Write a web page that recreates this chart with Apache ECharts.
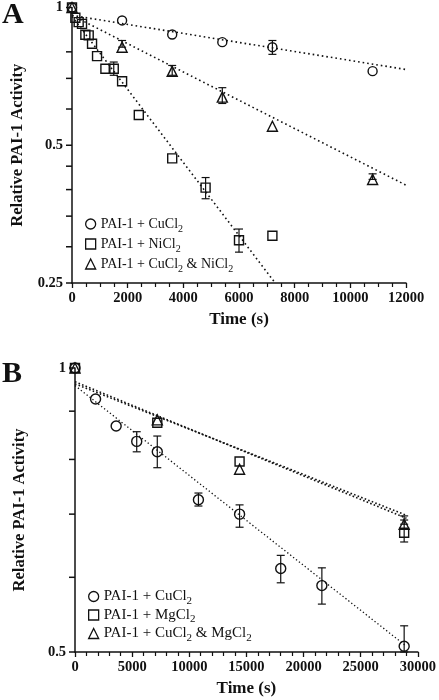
<!DOCTYPE html>
<html>
<head>
<meta charset="utf-8">
<script src="https://cdn.jsdelivr.net/npm/echarts@6/dist/echarts.min.js"></script>
<style>html,body{margin:0;padding:0;background:#fff}#c{width:439px;height:700px}</style>
</head>
<body>
<div id="c"></div>
<script>
// ---------- Panel A data ----------
var aCuT = [0, 1800, 3600, 5400, 7200, 10800];
var aCuV = [1, 0.937, 0.873, 0.840, 0.819, 0.726];
var aNiT = [0, 120, 240, 360, 480, 600, 720, 900, 1200, 1500, 1800, 2400, 3600, 4800, 6000, 7200];
var aNiV = [1, 0.950, 0.929, 0.921, 0.872, 0.869, 0.833, 0.783, 0.735, 0.735, 0.690, 0.582, 0.468, 0.404, 0.310, 0.317];
var aBothT = [0, 1800, 3600, 5400, 7200, 10800];
var aBothV = [1, 0.819, 0.725, 0.637, 0.550, 0.421];
// error bars [time, low, high]
var aCuErr = [[7200, 0.790, 0.847]];
var aNiErr = [[1500, 0.711, 0.760], [4800, 0.382, 0.425], [6000, 0.292, 0.328]];
var aBothErr = [[1800, 0.819, 0.847], [3600, 0.711, 0.747], [5400, 0.617, 0.668], [10800, 0.421, 0.433]];
// fitted lines [time, value]
var aCuFit = [[0, 0.961], [12000, 0.732]];
var aNiFit = [[0, 0.956], [7300, 0.25]];
var aBothFit = [[0, 0.961], [12000, 0.409]];
var aXTicks = [0, 12000, 2000];
var aYTicks = [0.25, 0.3, 0.35, 0.4, 0.45, 0.5, 0.6, 0.7, 0.8, 1];

// ---------- Panel B data ----------
var bCuT = [0, 1800, 3600, 5400, 7200, 10800, 14400, 18000, 21600, 28800];
var bCuV = [1, 0.927, 0.868, 0.836, 0.815, 0.725, 0.700, 0.613, 0.588, 0.507];
var bMgT = [0, 7200, 14400, 28800];
var bMgV = [1, 0.875, 0.796, 0.669];
var bBothT = [0, 7200, 14400, 28800];
var bBothV = [1, 0.881, 0.781, 0.683];
var bCuErr = [[5400, 0.815, 0.856], [7200, 0.784, 0.847], [10800, 0.714, 0.737], [14400, 0.678, 0.716], [18000, 0.592, 0.633], [21600, 0.562, 0.614], [28800, 0.5, 0.533]];
var bMgErr = [[28800, 0.654, 0.690]];
var bBothErr = [[28800, 0.683, 0.697]];
var bCuFit = [[0, 0.958], [29000, 0.507]];
var bMgFit = [[0, 0.967], [29000, 0.693]];
var bBothFit = [[0, 0.962], [29000, 0.698]];
var bXTicks = [0, 30000, 5000];
var bYTicks = [0.5, 0.6, 0.7, 0.8, 0.9, 1];

var namesA = ['PAI-1 + CuCl2', 'PAI-1 + NiCl2', 'PAI-1 + CuCl2 & NiCl2'];
var namesB = ['PAI-1 + CuCl2', 'PAI-1 + MgCl2', 'PAI-1 + CuCl2 & MgCl2'];

var SERIF = '"Liberation Serif", "DejaVu Serif", serif';
var INK = '#111';

function zip(t, v) { return t.map(function (x, i) { return [x, v[i]]; }); }

function errSeries(data, xi, yi) {
  return {
    type: 'custom', xAxisIndex: xi, yAxisIndex: yi, data: data, silent: true, z: 3,
    renderItem: function (params, api) {
      var t = api.value(0);
      var lo = api.coord([t, api.value(1)]);
      var hi = api.coord([t, api.value(2)]);
      var w = 4;
      var st = { stroke: INK, lineWidth: 1.2, fill: null };
      return {
        type: 'group', children: [
          { type: 'line', shape: { x1: hi[0], y1: hi[1], x2: lo[0], y2: lo[1] }, style: st },
          { type: 'line', shape: { x1: hi[0] - w, y1: hi[1], x2: hi[0] + w, y2: hi[1] }, style: st },
          { type: 'line', shape: { x1: lo[0] - w, y1: lo[1], x2: lo[0] + w, y2: lo[1] }, style: st }
        ]
      };
    }
  };
}
// y-axis tick marks on the log axes, placed through the axis scale
function yTickSeries(vals, xmin, xi, yi) {
  return {
    type: 'scatter', xAxisIndex: xi, yAxisIndex: yi, silent: true, clip: false, z: 5,
    data: vals.map(function (v) { return [xmin, v]; }),
    symbol: 'rect', symbolSize: [6, 1.5], symbolOffset: [-3, 0],
    itemStyle: { color: INK, opacity: 1 }
  };
}
function pts(name, t, v, sym, size, xi, yi) {
  return {
    name: name, type: 'scatter', xAxisIndex: xi, yAxisIndex: yi, data: zip(t, v),
    symbol: sym, symbolSize: size, z: 4, clip: false,
    itemStyle: { color: 'rgba(255,255,255,0)', borderColor: INK, borderWidth: 1.4, opacity: 1 }
  };
}
function fit(data, xi, yi, w, dash) {
  return {
    type: 'line', xAxisIndex: xi, yAxisIndex: yi, data: data, showSymbol: false, silent: true, z: 2,
    lineStyle: { color: INK, width: w, type: dash }
  };
}
function richName(name) {
  var s = name.split('Cl2');
  var out = '';
  for (var i = 0; i < s.length; i++) {
    if (s[i] !== '') out += '{n|' + s[i] + '}';
    if (i < s.length - 1) out += '{n|Cl}{s|2}';
  }
  return out;
}
function legendFor(names, syms, left, top, gap, fs) {
  return {
    orient: 'vertical', left: left, top: top, itemGap: gap, itemWidth: 10, itemHeight: 10,
    selectedMode: false,
    data: names.map(function (n, i) {
      return { name: n, icon: syms[i], itemStyle: { color: 'rgba(255,255,255,0)', borderColor: INK, borderWidth: 1.3 } };
    }),
    formatter: richName,
    textStyle: {
      padding: [0, 0, 0, 0],
      rich: {
        n: { fontFamily: SERIF, fontSize: fs, color: INK, lineHeight: 20, verticalAlign: 'middle' },
        s: { fontFamily: SERIF, fontSize: fs - 4, color: INK, lineHeight: 9, verticalAlign: 'bottom' }
      }
    }
  };
}
function xAxisDef(gi, ticks, split, gap) {
  return {
    type: 'value', gridIndex: gi, min: ticks[0], max: ticks[1], interval: ticks[2],
    name: 'Time (s)', nameLocation: 'middle', nameGap: gap,
    nameTextStyle: { fontFamily: SERIF, fontWeight: 'bold', fontSize: 17, color: INK },
    axisLine: { show: true, lineStyle: { color: INK, width: 1.5 } },
    axisTick: { show: true, inside: false, length: 5, lineStyle: { color: INK, width: 1.3 } },
    minorTick: { show: true, splitNumber: split, length: 4, lineStyle: { color: INK, width: 1.2 } },
    axisLabel: { margin: 8, fontFamily: SERIF, fontWeight: 'bold', fontSize: 14.5, color: INK,
      formatter: function (v) { return String(v); } },
    splitLine: { show: false }
  };
}
function yAxisDef(gi, min, gap) {
  return {
    type: 'log', logBase: 2, gridIndex: gi, min: min, max: 1,
    name: 'Relative PAI-1 Activity', nameLocation: 'middle', nameGap: gap,
    nameTextStyle: { fontFamily: SERIF, fontWeight: 'bold', fontSize: 16.5, color: INK },
    axisLine: { show: true, lineStyle: { color: INK, width: 1.5 } },
    axisTick: { show: false },
    axisLabel: { margin: 9, fontFamily: SERIF, fontWeight: 'bold', fontSize: 14.5, color: INK,
      formatter: function (v) { return String(+(+v).toFixed(2)); } },
    splitLine: { show: false }, minorTick: { show: false }
  };
}

var chart = echarts.init(document.getElementById('c'), null, { renderer: 'canvas' });
chart.setOption({
  animation: false,
  backgroundColor: '#fff',
  grid: [
    { left: 72, right: 33, top: 7, height: 276 },
    { left: 75, right: 20, top: 368, height: 284 }
  ],
  xAxis: [xAxisDef(0, aXTicks, 4, 28), xAxisDef(1, bXTicks, 5, 28)],
  yAxis: [yAxisDef(0, 0.25, 44), yAxisDef(1, 0.5, 47)],
  legend: [
    legendFor(namesA, ['circle', 'rect', 'triangle'], 80, 212, 3, 14),
    legendFor(namesB, ['circle', 'rect', 'triangle'], 83, 584, 1, 15)
  ],
  graphic: [
    { type: 'text', left: 2, top: 0, style: { text: 'A', font: 'bold 30px ' + SERIF, fill: INK } },
    { type: 'text', left: 2, top: 359, style: { text: 'B', font: 'bold 30px ' + SERIF, fill: INK } }
  ],
  series: [
    yTickSeries(aYTicks, aXTicks[0], 0, 0),
    yTickSeries(bYTicks, bXTicks[0], 1, 1),
    fit(aCuFit, 0, 0, 1.6, [1.6, 3]),
    fit(aNiFit, 0, 0, 1.6, [1.6, 3]),
    fit(aBothFit, 0, 0, 1.6, [1.6, 3]),
    errSeries(aCuErr, 0, 0), errSeries(aNiErr, 0, 0), errSeries(aBothErr, 0, 0),
    pts(namesA[0], aCuT, aCuV, 'circle', 9, 0, 0),
    pts(namesA[1], aNiT, aNiV, 'rect', 9, 0, 0),
    pts(namesA[2], aBothT, aBothV, 'triangle', 10, 0, 0),

    fit(bCuFit, 1, 1, 1.3, [1.3, 2.4]),
    fit(bMgFit, 1, 1, 1.6, [1.6, 2.2]),
    fit(bBothFit, 1, 1, 1.6, [1.6, 2.2]),
    errSeries(bCuErr, 1, 1), errSeries(bMgErr, 1, 1), errSeries(bBothErr, 1, 1),
    pts(namesB[0], bCuT, bCuV, 'circle', 10, 1, 1),
    pts(namesB[1], bMgT, bMgV, 'rect', 9, 1, 1),
    pts(namesB[2], bBothT, bBothV, 'triangle', 10, 1, 1)
  ]
});
</script>
</body>
</html>
